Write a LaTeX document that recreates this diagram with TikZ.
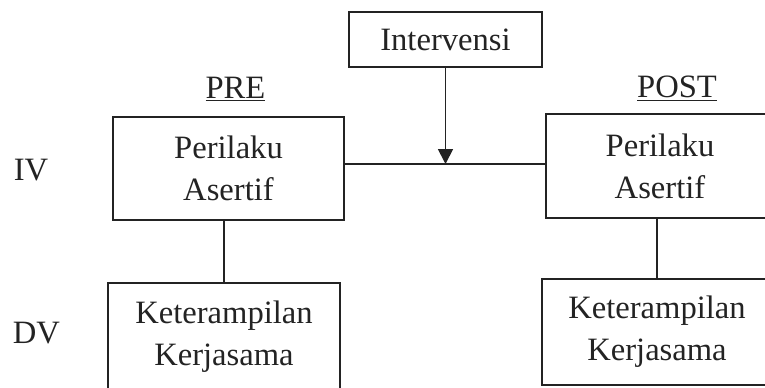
\documentclass[tikz,border=0pt]{standalone}
\usepackage{fontspec}
\setmainfont{Liberation Serif}
\usepackage{tikz}
\usetikzlibrary{arrows.meta}
\definecolor{ink}{RGB}{35, 35, 35}

\tikzset{
  varbox/.style={draw=ink, line width=0.9pt, align=center, inner sep=0pt,
                 font=\fontsize{16.3}{21}\selectfont},
  varlabel/.style={text=ink, font=\fontsize{16.3}{21}\selectfont}
}

\begin{document}
\begin{tikzpicture}[x=0.5pt, y=-0.5pt, text=ink]
  \useasboundingbox (0, 0) rectangle (765, 387);
  \clip (0, 0) rectangle (765, 387);

  \node[varbox, minimum width=96.5pt, minimum height=27.5pt] (interv) at (445.5, 39.5) {Intervensi};

  \node[varlabel, anchor=base] (pre) at (235.5, 98) {\underline{PRE}};
  \node[varlabel, anchor=base] (post) at (677, 97) {\underline{POST}};

  \node[varlabel] (iv) at (31, 170) {IV};
  \node[varlabel] (dv) at (36.5, 333) {DV};

  \node[varbox, minimum width=115.5pt, minimum height=51.5pt] (preiv) at (228.5, 168.5) {Perilaku\\Asertif};
  \node[varbox, minimum width=114pt, minimum height=52pt] (postiv) at (660, 166) {Perilaku\\Asertif};

  \node[varbox, minimum width=116pt, minimum height=53.5pt] (predv) at (224, 336.5) {Keterampilan\\Kerjasama};
  \node[varbox, minimum width=115pt, minimum height=53pt] (postdv) at (657, 332) {Keterampilan\\Kerjasama};

  \coordinate (mid) at (445.5, 164);

  \draw[ink, line width=0.9pt] (preiv.east |- mid) -- (postiv.west |- mid);
  \draw[ink, line width=0.9pt, -{Triangle[width=7.5pt, length=7.5pt]}] (interv) -- (mid);

  \draw[ink, line width=0.9pt] (predv.north |- preiv.south) -- (predv.north);
  \draw[ink, line width=0.9pt] (postdv.north |- postiv.south) -- (postdv.north);
\end{tikzpicture}
\end{document}
